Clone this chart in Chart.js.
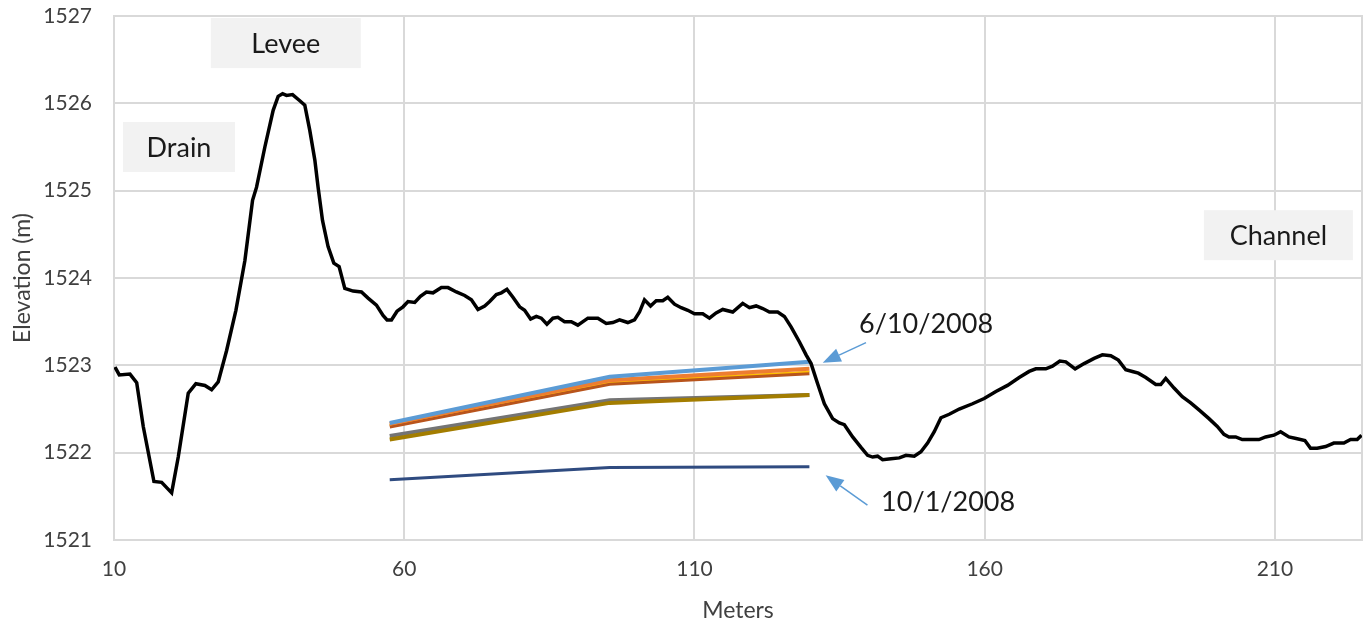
<!DOCTYPE html>
<html>
<head>
<meta charset="utf-8">
<script src="https://cdn.jsdelivr.net/npm/chart.js@4/dist/chart.umd.min.js"></script>
<style>
  html, body { margin: 0; padding: 0; background: #ffffff; }
  #wrap { width: 1372px; height: 626px; }
</style>
</head>
<body>
<div id="wrap"><canvas id="c" width="1372" height="626"></canvas></div>
<script>
// Ground surface profile along the transect (distance in m, elevation in m)
const profileX = [10.17, 10.91, 12.75, 13.91, 15.04, 16.88, 18.21, 19.93, 21.07, 22.79, 24.11, 25.66, 26.82, 27.95, 29.40, 31.00, 32.55, 33.87, 34.56, 35.99, 37.42, 38.28, 39.04, 39.72, 40.76, 42.01, 42.87, 43.73, 44.60, 45.16, 45.92, 46.88, 47.87, 48.78, 49.76, 51.19, 52.63, 53.77, 55.21, 56.35, 57.04, 57.80, 58.76, 59.79, 60.65, 61.81, 62.79, 63.82, 64.96, 66.40, 67.54, 68.98, 70.41, 71.57, 72.70, 73.86, 74.72, 75.87, 76.73, 77.69, 78.73, 79.88, 80.74, 81.77, 82.75, 83.61, 84.58, 85.61, 86.47, 87.62, 88.78, 89.91, 91.64, 93.36, 94.80, 95.94, 97.09, 98.52, 99.67, 100.53, 101.39, 102.43, 103.41, 104.54, 105.40, 106.56, 107.71, 108.85, 110.00, 111.43, 112.58, 113.73, 114.87, 116.59, 118.31, 119.47, 120.62, 121.76, 122.91, 124.34, 125.49, 126.64, 128.07, 129.23, 130.09, 131.22, 132.38, 133.80, 134.96, 135.82, 137.25, 138.69, 139.83, 140.69, 141.55, 142.41, 143.86, 145.29, 146.44, 147.87, 149.02, 150.16, 151.31, 152.46, 153.89, 155.61, 157.90, 159.91, 161.93, 163.93, 165.94, 167.66, 168.81, 170.53, 171.67, 172.94, 173.97, 175.58, 177.13, 178.85, 180.28, 181.72, 183.03, 184.30, 185.44, 186.47, 187.75, 189.47, 190.33, 191.19, 192.62, 194.04, 195.49, 196.92, 198.64, 200.07, 201.22, 202.08, 203.24, 204.37, 205.82, 207.25, 208.40, 209.83, 210.98, 212.41, 213.84, 215.16, 216.14, 217.28, 218.73, 220.15, 221.88, 223.03, 224.17, 224.92];
const profileY = [1522.98, 1522.89, 1522.90, 1522.80, 1522.30, 1521.67, 1521.66, 1521.54, 1521.95, 1522.68, 1522.79, 1522.77, 1522.72, 1522.81, 1523.17, 1523.63, 1524.20, 1524.89, 1525.04, 1525.50, 1525.92, 1526.08, 1526.11, 1526.09, 1526.10, 1526.03, 1525.98, 1525.69, 1525.35, 1525.04, 1524.66, 1524.36, 1524.17, 1524.13, 1523.88, 1523.85, 1523.84, 1523.77, 1523.69, 1523.57, 1523.52, 1523.52, 1523.62, 1523.67, 1523.73, 1523.72, 1523.79, 1523.84, 1523.83, 1523.89, 1523.89, 1523.84, 1523.80, 1523.75, 1523.64, 1523.68, 1523.73, 1523.81, 1523.83, 1523.87, 1523.78, 1523.67, 1523.63, 1523.53, 1523.56, 1523.54, 1523.47, 1523.54, 1523.55, 1523.50, 1523.50, 1523.46, 1523.54, 1523.54, 1523.48, 1523.49, 1523.52, 1523.49, 1523.52, 1523.61, 1523.75, 1523.68, 1523.74, 1523.74, 1523.78, 1523.70, 1523.66, 1523.63, 1523.59, 1523.59, 1523.54, 1523.60, 1523.64, 1523.61, 1523.71, 1523.66, 1523.68, 1523.65, 1523.61, 1523.61, 1523.56, 1523.44, 1523.27, 1523.12, 1523.02, 1522.79, 1522.56, 1522.39, 1522.34, 1522.32, 1522.18, 1522.06, 1521.97, 1521.95, 1521.96, 1521.92, 1521.93, 1521.94, 1521.97, 1521.96, 1522.01, 1522.11, 1522.24, 1522.40, 1522.44, 1522.50, 1522.56, 1522.62, 1522.70, 1522.77, 1522.86, 1522.93, 1522.96, 1522.96, 1522.99, 1523.05, 1523.04, 1522.96, 1523.02, 1523.08, 1523.12, 1523.11, 1523.06, 1522.95, 1522.93, 1522.91, 1522.86, 1522.78, 1522.78, 1522.85, 1522.74, 1522.64, 1522.57, 1522.49, 1522.39, 1522.30, 1522.21, 1522.18, 1522.18, 1522.15, 1522.15, 1522.15, 1522.18, 1522.20, 1522.24, 1522.18, 1522.16, 1522.14, 1522.05, 1522.05, 1522.07, 1522.11, 1522.11, 1522.15, 1522.15, 1522.20];

// Monitoring wells along the transect and their water levels on each date
const wellX = [57.5, 95.4, 129.8];
const level0610 = [1522.34, 1522.87, 1523.04];
const levelB = [1522.33, 1522.83, 1522.96];
const levelC = [1522.32, 1522.81, 1522.93];
const levelD = [1522.30, 1522.79, 1522.91];
const levelE = [1522.19, 1522.60, 1522.66];
const levelF = [1522.15, 1522.57, 1522.66];
const level1001 = [1521.69, 1521.83, 1521.84];

// Axis ticks
const xTicks = [10, 60, 110, 160, 210];
const yTicks = [1521, 1522, 1523, 1524, 1525, 1526, 1527];

// Labelled features, placed in data coordinates
const boxLabels = [
  { text: 'Levee',   x: 39.6,  y: 1526.69, w: 150, h: 50 },
  { text: 'Drain',   x: 21.2,  y: 1525.50, w: 112, h: 50 },
  { text: 'Channel', x: 210.6, y: 1524.49, w: 149, h: 50 }
];
const dateLabels = [
  { text: '6/10/2008', x: 149.9, y: 1523.47, fromX: 139.55, fromY: 1523.26, toX: 132.1, toY: 1523.03 },
  { text: '10/1/2008', x: 153.7, y: 1521.43, fromX: 139.8,  fromY: 1521.40, toX: 132.6, toY: 1521.74 }
];

const FONT = 'Lato, "Noto Sans", sans-serif';

function pts(xs, ys) { return xs.map((x, i) => ({ x: x, y: ys[i] })); }

function lineSet(label, xs, ys, color, width) {
  return {
    label: label, data: pts(xs, ys), borderColor: color, backgroundColor: color,
    borderWidth: width, pointRadius: 0, tension: 0, fill: false
  };
}

const frame = {
  id: 'frame',
  beforeDatasetsDraw(chart) {
    const a = chart.chartArea, ctx = chart.ctx;
    ctx.save();
    ctx.strokeStyle = '#d9d9d9';
    ctx.lineWidth = 2;
    ctx.strokeRect(a.left, a.top, a.right - a.left, a.bottom - a.top);
    ctx.restore();
  }
};

const notes = {
  id: 'notes',
  afterDatasetsDraw(chart) {
    const ctx = chart.ctx, sx = chart.scales.x, sy = chart.scales.y;
    ctx.save();
    ctx.font = '27px ' + FONT;
    ctx.textAlign = 'center';
    ctx.textBaseline = 'middle';
    boxLabels.forEach(b => {
      const cx = sx.getPixelForValue(b.x), cy = sy.getPixelForValue(b.y);
      ctx.fillStyle = '#f2f2f2';
      ctx.fillRect(cx - b.w / 2, cy - b.h / 2, b.w, b.h);
      ctx.fillStyle = '#1a1a1a';
      ctx.fillText(b.text, cx, cy + 1);
    });
    dateLabels.forEach(d => {
      const tx = sx.getPixelForValue(d.x), ty = sy.getPixelForValue(d.y);
      ctx.fillStyle = '#1a1a1a';
      ctx.fillText(d.text, tx, ty);
      const x0 = sx.getPixelForValue(d.fromX), y0 = sy.getPixelForValue(d.fromY);
      const x1 = sx.getPixelForValue(d.toX), y1 = sy.getPixelForValue(d.toY);
      const ang = Math.atan2(y1 - y0, x1 - x0);
      const headLen = 18, headHalf = 7;
      const bx = x1 - headLen * Math.cos(ang), by = y1 - headLen * Math.sin(ang);
      ctx.strokeStyle = '#5b9bd5';
      ctx.lineWidth = 1.5;
      ctx.beginPath();
      ctx.moveTo(x0, y0);
      ctx.lineTo(bx, by);
      ctx.stroke();
      ctx.fillStyle = '#5b9bd5';
      ctx.beginPath();
      ctx.moveTo(x1, y1);
      ctx.lineTo(bx + headHalf * Math.sin(ang), by - headHalf * Math.cos(ang));
      ctx.lineTo(bx - headHalf * Math.sin(ang), by + headHalf * Math.cos(ang));
      ctx.closePath();
      ctx.fill();
    });
    ctx.restore();
  }
};

new Chart(document.getElementById('c'), {
  type: 'line',
  data: {
    datasets: [
      lineSet('Ground surface', profileX, profileY, '#000000', 3.5),
      lineSet('6/10/2008', wellX, level0610, '#5b9bd5', 4),
      lineSet('Level B', wellX, levelB, '#ed7d31', 4),
      lineSet('Level C', wellX, levelC, '#ffc000', 1.5),
      lineSet('Level D', wellX, levelD, '#b8541c', 4),
      lineSet('Level F', wellX, levelF, '#a37d00', 4),
      lineSet('Level E', wellX, levelE, '#747474', 4),
      lineSet('10/1/2008', wellX, level1001, '#2f4b80', 3)
    ]
  },
  options: {
    responsive: false,
    animation: false,
    events: [],
    layout: { padding: { left: 0, right: 10, top: 16, bottom: 0 } },
    plugins: { legend: { display: false }, tooltip: { enabled: false } },
    scales: {
      x: {
        type: 'linear', min: 10, max: 225,
        afterBuildTicks(s) { s.ticks = xTicks.map(v => ({ value: v })); },
        afterFit(s) { s.height = 86; },
        grid: { color: '#d9d9d9', lineWidth: 2, drawTicks: false },
        border: { display: false },
        ticks: { color: '#404040', font: { family: FONT, size: 21 }, padding: 17, maxRotation: 0, callback: v => String(v) },
        title: { display: true, text: 'Meters', color: '#404040', font: { family: FONT, size: 23 }, padding: { top: 0, bottom: 2 } }
      },
      y: {
        type: 'linear', min: 1521, max: 1527,
        afterBuildTicks(s) { s.ticks = yTicks.map(v => ({ value: v })); },
        afterFit(s) { s.width = 114; s.paddingTop = 0; s.paddingBottom = 0; },
        grid: { color: '#d9d9d9', lineWidth: 2, drawTicks: false },
        border: { display: false },
        ticks: { color: '#404040', font: { family: FONT, size: 21 }, padding: 22, callback: v => String(v) },
        title: { display: true, text: 'Elevation (m)', color: '#404040', font: { family: FONT, size: 23 }, padding: { top: 9, bottom: 0 } }
      }
    }
  },
  plugins: [frame, notes]
});
</script>
</body>
</html>
